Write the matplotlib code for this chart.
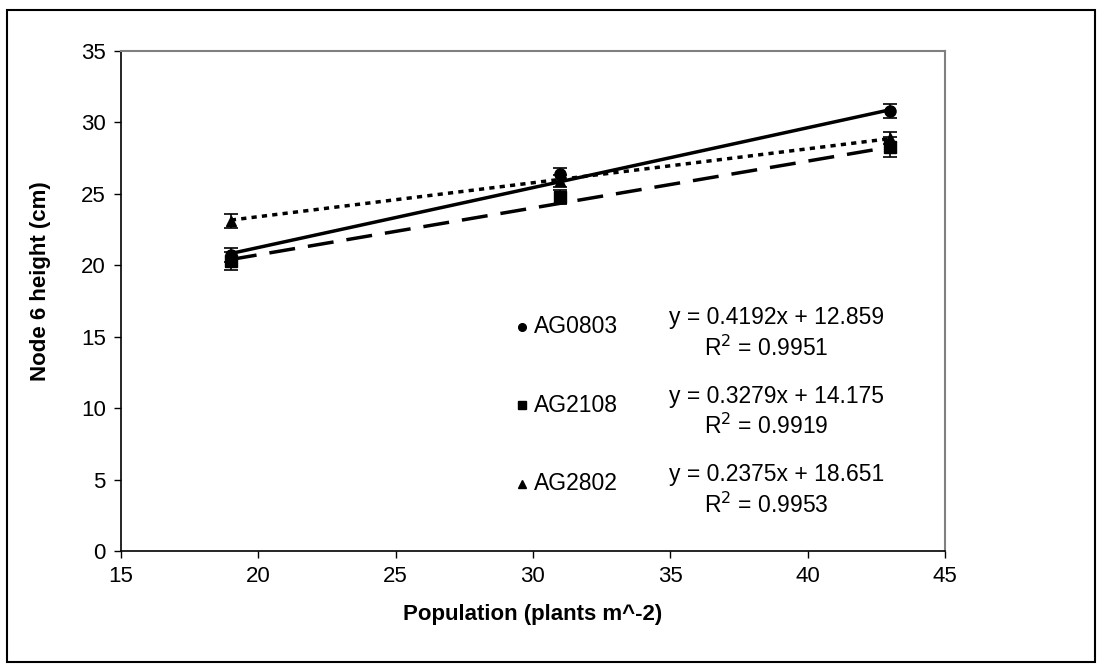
import matplotlib
matplotlib.use("Agg")
import matplotlib.pyplot as plt
from matplotlib.patches import Rectangle
import numpy as np

plt.rcParams['font.family'] = ['Liberation Sans', 'DejaVu Sans']

# data
population = [19, 31, 43]
hybrids = ["AG0803", "AG2108", "AG2802"]
height_ag0803 = [20.7, 26.4, 30.8]
height_ag2108 = [20.3, 24.8, 28.3]
height_ag2802 = [23.1, 25.9, 28.9]
err_ag0803 = [0.5, 0.4, 0.5]
err_ag2108 = [0.6, 0.5, 0.7]
err_ag2802 = [0.5, 0.4, 0.4]
slopes = [0.4192, 0.3279, 0.2375]
intercepts = [12.859, 14.175, 18.651]
r_squared = [0.9951, 0.9919, 0.9953]

heights = [height_ag0803, height_ag2108, height_ag2802]
errors = [err_ag0803, err_ag2108, err_ag2802]
markers = ['o', 's', '^']
styles = ['-', (0, (7.5, 3.75)), (0, (1.5, 1.5))]
msizes = [8, 8, 7]
fs = 16.5

fig = plt.figure(figsize=(11.02, 6.69), dpi=100)
ax = fig.add_axes([0.1098, 0.1764, 0.7477, 0.7474])

# outer frame around the whole chart
fig.patches.append(Rectangle((0.0064, 0.0105), 0.9874, 0.9746, transform=fig.transFigure,
                             fill=False, edgecolor='black', linewidth=1.5))

xfit = np.array([population[0], population[-1]])
for i in range(3):
    ax.plot(xfit, slopes[i] * xfit + intercepts[i], color='black', linestyle=styles[i], linewidth=2.5)
    ax.errorbar(population, heights[i], yerr=errors[i], fmt=markers[i], color='black',
                markersize=msizes[i], capsize=5, elinewidth=1.2, capthick=1.2)

ax.set_xlim(15, 45)
ax.set_ylim(0, 35)
ax.set_xticks(range(15, 50, 5))
ax.set_yticks(range(0, 40, 5))
ax.tick_params(direction='out', length=5, width=1, labelsize=16, pad=6)
ax.set_xlabel("Population (plants m^-2)", fontsize=16, fontweight='bold', labelpad=12)
ax.set_ylabel("Node 6 height (cm)", fontsize=16, fontweight='bold', labelpad=12)
ax.yaxis.set_label_coords(-0.085, 0.54)
for s in ['top', 'right']:
    ax.spines[s].set_color('#808080')
    ax.spines[s].set_linewidth(1.5)
for s in ['left', 'bottom']:
    ax.spines[s].set_linewidth(1.2)

# legend entries with equations
label_y = [15.7, 10.2, 4.7]
for i in range(3):
    ax.plot([29.6], [label_y[i]], marker=markers[i], color='black', markersize=5.5,
            linestyle='none')
    ax.text(30.05, label_y[i], hybrids[i], fontsize=fs, va='center', ha='left')
    ax.text(42.78, label_y[i] + 0.62, f"y = {slopes[i]}x + {intercepts[i]}", fontsize=fs,
            ha='right', va='center')
    ax.text(40.75, label_y[i] - 1.5, f"R$^2$ = {r_squared[i]}", fontsize=fs,
            ha='right', va='center')

fig.savefig("out.png", dpi=100)
